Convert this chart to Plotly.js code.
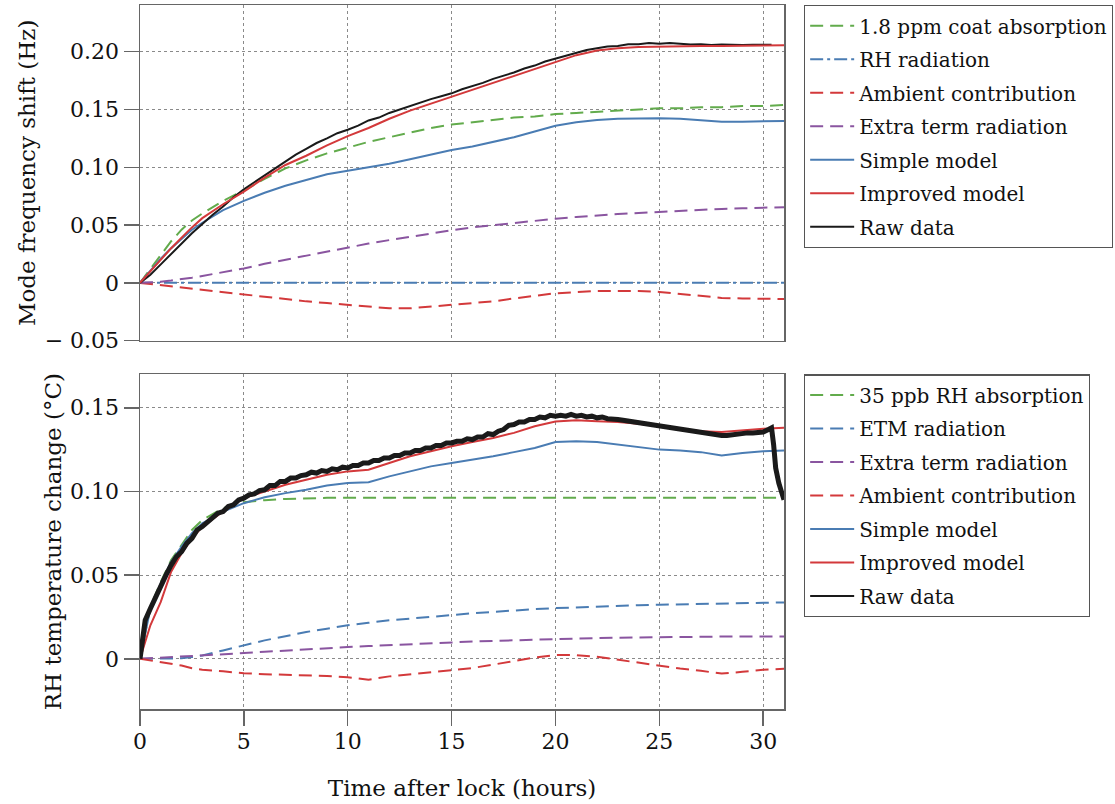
<!DOCTYPE html>
<html>
<head>
<meta charset="utf-8">
<script src="https://cdn.plot.ly/plotly-3.0.1.min.js"></script>
<style>html,body{margin:0;padding:0;background:#fff;}#chart{width:1115px;height:804px;}</style>
</head>
<body>
<div id="chart"></div>
<script>
// ---------- shared time grid (hours) ----------
var tModel = [0,0.5,1,1.5,2,2.5,3,4,5,6,7,8,9,10,11,12,13,14,15,16,17,18,19,20,21,22,23,24,25,26,27,28,29,30,31];

// ---------- top panel: mode frequency shift (Hz) ----------
var topCoatAbs   = [0,0.012,0.025,0.036,0.046,0.054,0.060,0.071,0.080,0.090,0.099,0.106,0.112,0.117,0.122,0.126,0.130,0.134,0.137,0.139,0.141,0.143,0.144,0.146,0.147,0.148,0.149,0.150,0.151,0.151,0.152,0.152,0.153,0.153,0.154];
var topRHRad     = [0,0,0,0,0,0,0,0,0,0,0,0,0,0,0,0,0,0,0,0,0,0,0,0,0,0,0,0,0,0,0,0,0,0,0];
var topAmbient   = [0,-0.001,-0.002,-0.003,-0.004,-0.005,-0.006,-0.008,-0.0104,-0.012,-0.014,-0.016,-0.0175,-0.019,-0.021,-0.022,-0.022,-0.0205,-0.019,-0.0175,-0.016,-0.0135,-0.011,-0.009,-0.008,-0.007,-0.007,-0.007,-0.0078,-0.0095,-0.011,-0.013,-0.0135,-0.014,-0.014];
var topExtra     = [0,0.0003,0.001,0.002,0.003,0.0045,0.006,0.009,0.0125,0.0165,0.020,0.024,0.0275,0.031,0.034,0.037,0.040,0.043,0.0455,0.048,0.050,0.052,0.054,0.0555,0.057,0.0585,0.0595,0.0605,0.0615,0.0625,0.063,0.064,0.0645,0.065,0.0655];
var topSimple    = [0,0.011,0.021,0.030,0.038,0.046,0.052,0.063,0.071,0.078,0.084,0.089,0.094,0.097,0.100,0.103,0.107,0.111,0.115,0.118,0.122,0.126,0.131,0.136,0.139,0.141,0.142,0.1425,0.1425,0.142,0.141,0.1395,0.1395,0.140,0.140];
var topImproved  = [0,0.010,0.020,0.030,0.039,0.048,0.056,0.068,0.079,0.091,0.102,0.110,0.119,0.127,0.134,0.142,0.149,0.155,0.161,0.167,0.173,0.179,0.185,0.191,0.197,0.201,0.203,0.204,0.2045,0.2045,0.205,0.205,0.205,0.2055,0.2055];
var topRawT      = [0,0.5,1,1.5,2,2.5,3,3.5,4,4.5,5,5.5,6,6.5,7,7.5,8,8.5,9,9.5,10,10.5,11,11.5,12,12.5,13,13.5,14,14.5,15,15.5,16,16.5,17,17.5,18,18.5,19,19.5,20,20.5,21,21.5,22,22.5,23,23.5,24,24.5,25,25.5,26,26.5,27,27.5,28,28.5,29,29.5,30,30.4];
var topRaw       = [0,0.007,0.016,0.025,0.034,0.043,0.051,0.059,0.066,0.074,0.081,0.087,0.093,0.0995,0.105,0.111,0.116,0.121,0.125,0.1295,0.1325,0.136,0.1405,0.143,0.147,0.150,0.153,0.1565,0.159,0.1615,0.164,0.1675,0.170,0.173,0.1765,0.179,0.182,0.1855,0.188,0.1915,0.194,0.196,0.199,0.2015,0.203,0.2045,0.205,0.2065,0.2065,0.2075,0.2068,0.2075,0.2068,0.2062,0.2065,0.2057,0.2062,0.2058,0.2058,0.206,0.206,0.206];

// ---------- bottom panel: RH temperature change (°C) ----------
var botRHAbs     = [0,0.031,0.046,0.059,0.068,0.077,0.083,0.090,0.0935,0.0948,0.0955,0.096,0.0962,0.0963,0.0963,0.0963,0.0963,0.0963,0.0963,0.0963,0.0963,0.0963,0.0963,0.0963,0.0963,0.0963,0.0963,0.0963,0.0963,0.0963,0.0963,0.0963,0.0963,0.0963,0.0963];
var botETMRad    = [0,0,0,0,0.0003,0.001,0.002,0.005,0.008,0.011,0.0135,0.016,0.018,0.020,0.0215,0.023,0.024,0.0252,0.0263,0.0272,0.028,0.029,0.0297,0.0303,0.0308,0.0312,0.0316,0.032,0.0323,0.0326,0.0329,0.0332,0.0334,0.0336,0.0337];
var botExtra     = [0,0.0003,0.0006,0.001,0.0014,0.0018,0.0022,0.0028,0.0034,0.0042,0.005,0.0057,0.0064,0.007,0.0076,0.0082,0.0088,0.0093,0.0098,0.0103,0.0107,0.0111,0.0115,0.0118,0.0121,0.0124,0.0126,0.0128,0.013,0.0131,0.0132,0.0133,0.0134,0.0134,0.0134];
var botAmbient   = [0,-0.001,-0.002,-0.003,-0.004,-0.0056,-0.0065,-0.0075,-0.0086,-0.0092,-0.0095,-0.0098,-0.0103,-0.011,-0.0125,-0.0105,-0.0092,-0.0082,-0.007,-0.0055,-0.0035,-0.0015,0.0008,0.0022,0.0022,0.0012,-0.0006,-0.0025,-0.0042,-0.0058,-0.0072,-0.0088,-0.0078,-0.0066,-0.006];
var botSimple    = [0,0.030,0.045,0.058,0.067,0.075,0.081,0.088,0.093,0.0965,0.099,0.101,0.1035,0.105,0.1055,0.109,0.112,0.115,0.117,0.119,0.121,0.1235,0.126,0.1295,0.130,0.1295,0.128,0.1265,0.125,0.1245,0.1235,0.1215,0.123,0.124,0.1245];
var botImproved  = [0,0.020,0.034,0.052,0.063,0.072,0.079,0.088,0.096,0.100,0.104,0.107,0.110,0.112,0.113,0.117,0.121,0.124,0.127,0.1295,0.132,0.135,0.139,0.1418,0.1425,0.142,0.1415,0.1405,0.139,0.1375,0.136,0.1355,0.1365,0.1375,0.138];
var botRawT      = [0,0.25,0.5,0.75,1,1.25,1.5,1.75,2,2.25,2.5,2.75,3,3.25,3.5,3.75,4,4.25,4.5,4.75,5,5.25,5.5,5.75,6,6.25,6.5,6.75,7,7.25,7.5,7.75,8,8.25,8.5,8.75,9,9.25,9.5,9.75,10,10.25,10.5,10.75,11,11.25,11.5,11.75,12,12.25,12.5,12.75,13,13.25,13.5,13.75,14,14.25,14.5,14.75,15,15.25,15.5,15.75,16,16.25,16.5,16.75,17,17.25,17.5,17.75,18,18.25,18.5,18.75,19,19.25,19.5,19.75,20,20.25,20.5,20.75,21,21.25,21.5,21.75,22,22.25,22.5,22.75,23,23.25,23.5,23.75,24,24.25,24.5,24.75,25,25.25,25.5,25.75,26,26.25,26.5,26.75,27,27.25,27.5,27.75,28,28.25,28.5,28.75,29,29.25,29.5,29.75,30,30.25,30.4,30.5,30.6,30.75,31];
var botRaw       = [0,0.023,0.030,0.037,0.044,0.050,0.056,0.061,0.064,0.069,0.072,0.077,0.079,0.082,0.084,0.087,0.088,0.091,0.092,0.095,0.096,0.098,0.0985,0.1005,0.101,0.1035,0.1035,0.106,0.106,0.108,0.108,0.1095,0.110,0.1115,0.111,0.1125,0.112,0.1135,0.113,0.1145,0.114,0.1155,0.1155,0.117,0.117,0.1185,0.1185,0.120,0.120,0.1215,0.1215,0.123,0.123,0.1245,0.1245,0.126,0.126,0.1275,0.1275,0.129,0.129,0.130,0.130,0.1315,0.131,0.1325,0.1325,0.1345,0.134,0.136,0.137,0.1395,0.140,0.1415,0.1415,0.143,0.143,0.1445,0.144,0.1455,0.145,0.1455,0.145,0.146,0.145,0.1455,0.1445,0.145,0.144,0.1445,0.1435,0.1435,0.143,0.1425,0.142,0.1415,0.141,0.1405,0.140,0.1395,0.139,0.1385,0.138,0.1375,0.137,0.1365,0.136,0.1355,0.1355,0.135,0.1345,0.134,0.1335,0.1335,0.134,0.1345,0.1345,0.135,0.135,0.1355,0.1355,0.137,0.138,0.128,0.114,0.105,0.095];

// ---------- labels ----------
var topNames = ["1.8 ppm coat absorption","RH radiation","Ambient contribution","Extra term radiation","Simple model","Improved model","Raw data"];
var botNames = ["35 ppb RH absorption","ETM radiation","Extra term radiation","Ambient contribution","Simple model","Improved model","Raw data"];
var xTickVals = [0,5,10,15,20,25,30];
var xTickText = ["0","5","10","15","20","25","30"];
var topTickVals = [-0.05,0,0.05,0.10,0.15,0.20];
var topTickText = ["\u2212 0.05","0","0.05","0.10","0.15","0.20"];
var botTickVals = [0,0.05,0.10,0.15];
var botTickText = ["0","0.05","0.10","0.15"];

// ---------- styles ----------
var GREEN = "#62ab4c", BLUE = "#4a7cb3", RED = "#d3393b", PURPLE = "#8a55a0", BLACK = "#1a1a1a";
var DASH = "13px,7px";
var DASHDOT = "13px,4px,3px,4px";
var FONT = "DejaVu Serif";

var gid = 0;
function tr(x, y, name, color, dash, width, xa, ya, leg) {
  gid++;
  return {x: x, y: y, name: name, type: "scatter", mode: "lines",
          line: {color: color, dash: dash, width: width}, legendgroup: "g" + gid,
          xaxis: xa, yaxis: ya, legend: leg, hoverinfo: "skip"};
}

var rawBottom = tr(botRawT, botRaw, botNames[6], BLACK, "solid", 5, "x2", "y2", "legend2");
rawBottom.showlegend = false;
var rawBottomKey = tr([null], [null], botNames[6], BLACK, "solid", 2, "x2", "y2", "legend2");

var data = [
  tr(tModel, topCoatAbs, topNames[0], GREEN, DASH, 2, "x", "y", "legend"),
  tr(tModel, topRHRad, topNames[1], BLUE, DASHDOT, 2, "x", "y", "legend"),
  tr(tModel, topAmbient, topNames[2], RED, DASH, 2, "x", "y", "legend"),
  tr(tModel, topExtra, topNames[3], PURPLE, DASH, 2, "x", "y", "legend"),
  tr(tModel, topSimple, topNames[4], BLUE, "solid", 2, "x", "y", "legend"),
  tr(topRawT, topRaw, topNames[6], BLACK, "solid", 2, "x", "y", "legend"),
  tr(tModel, topImproved, topNames[5], RED, "solid", 2, "x", "y", "legend"),

  tr(tModel, botRHAbs, botNames[0], GREEN, DASH, 2, "x2", "y2", "legend2"),
  tr(tModel, botETMRad, botNames[1], BLUE, DASH, 2, "x2", "y2", "legend2"),
  tr(tModel, botExtra, botNames[2], PURPLE, DASH, 2, "x2", "y2", "legend2"),
  tr(tModel, botAmbient, botNames[3], RED, DASH, 2, "x2", "y2", "legend2"),
  tr(tModel, botSimple, botNames[4], BLUE, "solid", 2, "x2", "y2", "legend2"),
  tr(tModel, botImproved, botNames[5], RED, "solid", 2, "x2", "y2", "legend2"),
  rawBottom,
  rawBottomKey
];
data[5].legendrank = 1007; data[6].legendrank = 1006;
for (var i = 0; i < data.length; i++) { if (data[i].legendrank === undefined) data[i].legendrank = 1000 + i; }

var AX = "#666";
var TICKSIZE = 22, TITLESIZE = 23, LEGSIZE = 20;
function xaxis(domAnchor, showLabels) {
  return {anchor: domAnchor, range: [0, 31], showline: true, linecolor: AX, linewidth: 1.5, mirror: true,
          showgrid: true, gridcolor: "#8a8a8a", gridwidth: 1, griddash: "dot", zeroline: false,
          tickmode: "array", tickvals: xTickVals, ticktext: xTickText,
          ticks: showLabels ? "outside" : "", ticklen: 15, tickcolor: AX, tickwidth: 1.5,
          ticklabelstandoff: -3,
          showticklabels: showLabels, tickfont: {family: FONT, size: TICKSIZE, color: "#111"}};
}
function yaxis(domain, range, tv, tt, title, anchor) {
  return {domain: domain, anchor: anchor, range: range, showline: true, linecolor: AX, linewidth: 1.5, mirror: true,
          showgrid: true, gridcolor: "#8a8a8a", gridwidth: 1, griddash: "dot", zeroline: false,
          tickmode: "array", tickvals: tv, ticktext: tt, ticks: "outside", ticklen: 15, tickcolor: AX, tickwidth: 1.5,
          ticklabelstandoff: 0,
          tickfont: {family: FONT, size: TICKSIZE, color: "#111"},
          title: {text: title, font: {family: FONT, size: TITLESIZE, color: "#111"}, standoff: 2}};
}

var x1 = xaxis("y", false);
var x2 = xaxis("y2", true);
x2.title = {text: "Time after lock (hours)", font: {family: FONT, size: TITLESIZE, color: "#111"}, standoff: 27};

var legendStyle = function (y) {
  return {x: 1.031, y: y, xref: "paper", yref: "paper", xanchor: "left", yanchor: "top",
          bgcolor: "#fff", bordercolor: "#555", borderwidth: 1.2,
          font: {family: FONT, size: LEGSIZE, color: "#111"}, itemwidth: 44, tracegroupgap: 4.5, traceorder: "grouped"};
};

var layout = {
  width: 1115, height: 804,
  margin: {l: 140, r: 331, t: 5, b: 95, autoexpand: false},
  paper_bgcolor: "#fff", plot_bgcolor: "#fff",
  showlegend: true,
  xaxis: x1, xaxis2: x2,
  yaxis: yaxis([0.5232, 1], [-0.05, 0.2404], topTickVals, topTickText, "Mode frequency shift (Hz)", "x"),
  yaxis2: yaxis([0, 0.4754], [-0.03, 0.17], botTickVals, botTickText, "RH temperature change (\u00B0C)", "x2"),
  legend: legendStyle(1),
  legend2: legendStyle(0.4754),
  font: {family: FONT}
};

Plotly.newPlot("chart", data, layout, {staticPlot: true, displayModeBar: false});
</script>
</body>
</html>
